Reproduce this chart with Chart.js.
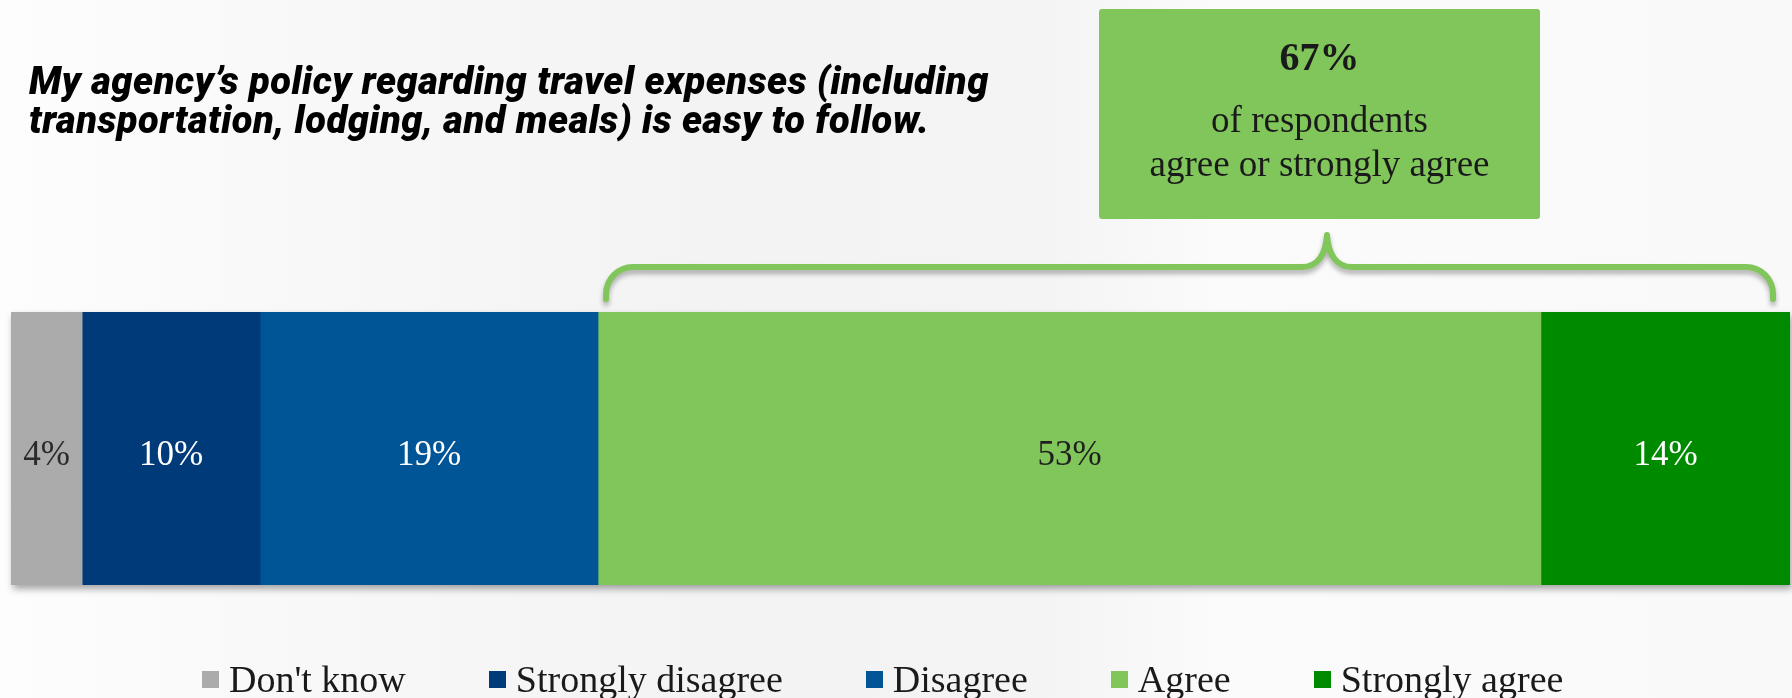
<!DOCTYPE html>
<html>
<head>
<meta charset="utf-8">
<script src="https://cdn.jsdelivr.net/npm/chart.js@4"></script>
<style>
  html, body { margin: 0; padding: 0; }
  body {
    width: 1792px; height: 698px; position: relative; overflow: hidden;
    background: linear-gradient(to right, #fdfdfd 0%, #f8f8f8 18%, #f3f3f3 40%, #f4f4f4 58%, #fbfbfb 68%, #f9f9f9 100%);
  }
  #wrap { position: absolute; left: 0; top: 0; width: 1792px; height: 698px; }
  #title {
    position: absolute; left: 29px; top: 62px;
    font-family: Roboto, sans-serif; font-weight: 900; font-style: italic;
    font-size: 38px; line-height: 39px; letter-spacing: 0.5px; color: #000;
  }
  #callout {
    position: absolute; left: 1099px; top: 9px; width: 441px; height: 210px;
    background: #80c65a; border-radius: 3px; text-align: center;
    font-family: "Liberation Serif", serif; color: #1a1a1a;
  }
  #callout .big { position: absolute; left: 0; right: 0; top: 24px; font-size: 40px; font-weight: 700; line-height: 48px; }
  #callout .txt { position: absolute; left: 0; right: 0; top: 89px; font-size: 37px; line-height: 44px; }
  #legend {
    position: absolute; left: 202px; top: 657px; display: flex; align-items: center; gap: 83px;
    font-family: "Liberation Serif", serif; font-size: 38px; color: #1a1a1a;
  }
  #legend .item { display: flex; align-items: center; white-space: nowrap; }
  #legend .box { width: 17px; height: 17px; margin-right: 10px; }
</style>
</head>
<body>
<div id="wrap"><canvas id="myChart" width="1792" height="698"></canvas></div>
<div id="title">My agency’s policy regarding travel expenses (including<br>transportation, lodging, and meals) is easy to follow.</div>
<div id="callout">
  <div class="big" id="calloutValue"></div>
  <div class="txt">of respondents<br>agree or strongly agree</div>
</div>
<div id="legend"></div>
<script>
var categories = ['My agency’s policy regarding travel expenses'];
var seriesNames = ["Don't know", 'Strongly disagree', 'Disagree', 'Agree', 'Strongly agree'];
var seriesValues = [4, 10, 19, 53, 14];
var seriesColors = ['#ababab', '#003a78', '#005596', '#80c65a', '#008a00'];
var labelColors = ['#2a2a2a', '#ffffff', '#ffffff', '#1f1f1f', '#ffffff'];

// agree + strongly agree go into the callout
var agreeTotal = seriesValues[3] + seriesValues[4];
document.getElementById('calloutValue').textContent = agreeTotal + '%';

// legend under the bar
var legend = document.getElementById('legend');
for (let i = 0; i < seriesNames.length; i++) {
    var item = document.createElement('div');
    item.className = 'item';
    item.innerHTML = '<span class="box" style="background:' + seriesColors[i] + '"></span>' + seriesNames[i];
    legend.appendChild(item);
}

var datasets = [];
for (let i = 0; i < seriesNames.length; i++) {
    datasets.push({
        label: seriesNames[i],
        data: [seriesValues[i]],
        backgroundColor: seriesColors[i],
        borderWidth: 0,
        barPercentage: 1,
        categoryPercentage: 1
    });
}

// drop shadow behind the whole stack
const barShadow = {
    id: 'barShadow',
    beforeDatasetsDraw(chart) {
        const ctx = chart.ctx;
        const x = chart.scales.x;
        const bar = chart.getDatasetMeta(0).data[0];
        const total = seriesValues.reduce((a, b) => a + b, 0);
        const left = x.getPixelForValue(0);
        const right = x.getPixelForValue(total);
        const top = bar.y - bar.height / 2;
        ctx.save();
        ctx.shadowColor = 'rgba(0,0,0,0.35)';
        ctx.shadowBlur = 7;
        ctx.shadowOffsetX = 2;
        ctx.shadowOffsetY = 4;
        ctx.fillStyle = '#999';
        ctx.fillRect(left, top, right - left, bar.height);
        ctx.restore();
    }
};

// percentage labels inside the segments
const segmentLabels = {
    id: 'segmentLabels',
    afterDatasetsDraw(chart) {
        const ctx = chart.ctx;
        ctx.save();
        ctx.font = '35px "Liberation Serif", serif';
        ctx.textAlign = 'center';
        ctx.textBaseline = 'middle';
        chart.data.datasets.forEach((ds, i) => {
            const bar = chart.getDatasetMeta(i).data[0];
            const cx = (bar.x + bar.base) / 2;
            ctx.fillStyle = labelColors[i];
            ctx.fillText(ds.data[0] + '%', cx, bar.y + 7);
        });
        ctx.restore();
    }
};

// curly bracket over agree + strongly agree
const bracket = {
    id: 'bracket',
    afterDatasetsDraw(chart) {
        const ctx = chart.ctx;
        const x = chart.scales.x;
        const L = x.getPixelForValue(seriesValues[0] + seriesValues[1] + seriesValues[2]) + 8;
        const R = x.getPixelForValue(100) - 17;
        const P = 1327;
        const yLine = 267, yEnd = 299, yPeak = 235, r = 27, w = 25;
        ctx.save();
        ctx.strokeStyle = '#80c65a';
        ctx.lineWidth = 6;
        ctx.lineCap = 'round';
        ctx.lineJoin = 'round';
        ctx.shadowColor = 'rgba(0,0,0,0.3)';
        ctx.shadowBlur = 5;
        ctx.shadowOffsetY = 4;
        ctx.beginPath();
        ctx.moveTo(L, yEnd);
        ctx.arcTo(L, yLine, L + r, yLine, r);
        ctx.lineTo(P - w, yLine);
        ctx.bezierCurveTo(P - 10, yLine, P - 1, yLine - 12, P, yPeak);
        ctx.bezierCurveTo(P + 1, yLine - 12, P + 10, yLine, P + w, yLine);
        ctx.lineTo(R - r, yLine);
        ctx.arcTo(R, yLine, R, yLine + r, r);
        ctx.lineTo(R, yEnd);
        ctx.stroke();
        ctx.restore();
    }
};

const config = {
    type: 'bar',
    data: { labels: categories, datasets: datasets },
    options: {
        indexAxis: 'y',
        responsive: false,
        animation: false,
        layout: { padding: { left: 11, right: 2, top: 312, bottom: 113 } },
        scales: {
            x: { stacked: true, min: 0, max: 100, display: false },
            y: { stacked: true, display: false }
        },
        plugins: {
            legend: { display: false },
            tooltip: { enabled: false }
        }
    },
    plugins: [barShadow, segmentLabels, bracket]
};
const myChart = new Chart(document.getElementById('myChart'), config);
</script>
</body>
</html>
